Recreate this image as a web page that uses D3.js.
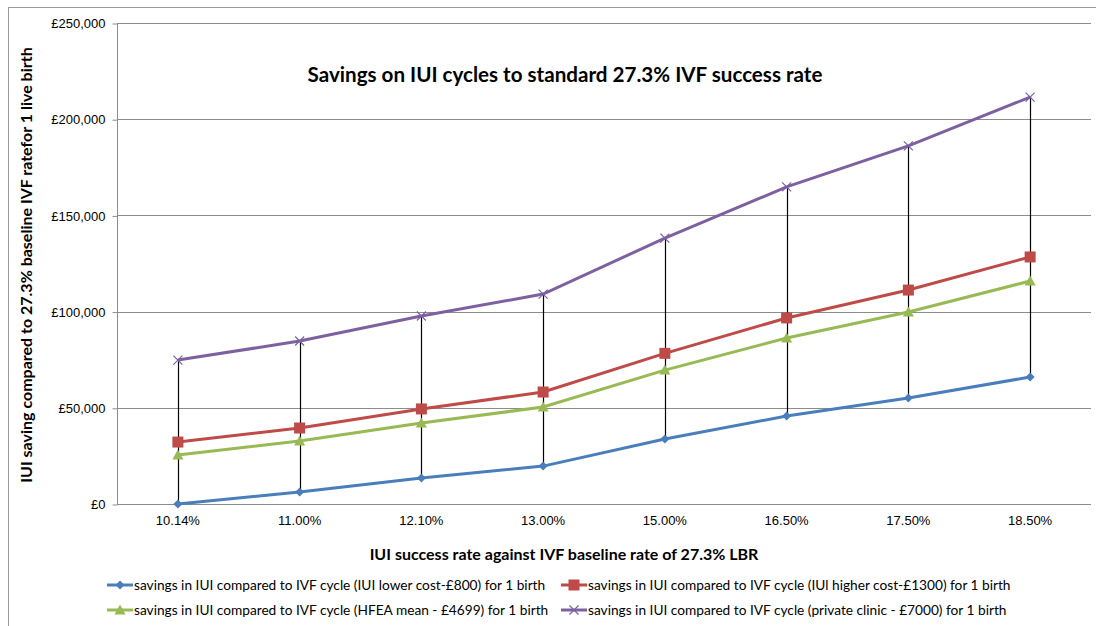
<!DOCTYPE html>
<html>
<head>
<meta charset="utf-8">
<script src="https://cdn.jsdelivr.net/npm/d3@7"></script>
<style>
    body { margin: 0; background: #fff; }
    svg { font-family: Lato, "Open Sans", sans-serif; }
    .grid-line { stroke: #8c8c8c; stroke-width: 1; }
    .axis path, .axis line { stroke: #8c8c8c; }
    .axis text { font-size: 13px; fill: #000; }
</style>
</head>
<body>
<div id="graphHolder"></div>
<script>
'use strict'
var categories = ["10.14%", "11.00%", "12.10%", "13.00%", "15.00%", "16.50%", "17.50%", "18.50%"];
var lowerCost = [0, 6200, 13500, 19700, 33800, 45700, 55100, 66000];
var higherCost = [32200, 39500, 49400, 58200, 78300, 96700, 111200, 128400];
var hfeaMean = [25500, 32700, 42100, 50400, 69600, 86300, 99800, 115900];
var privateClinic = [74800, 84700, 97700, 109100, 138200, 164800, 186100, 211500];
var yTicks = [0, 50000, 100000, 150000, 200000, 250000];

var seriesNames = [
    "savings in IUI compared to IVF cycle (IUI lower cost-£800) for 1 birth",
    "savings in IUI compared to IVF cycle (IUl higher cost-£1300) for 1 birth",
    "savings in IUI compared to IVF cycle (HFEA mean - £4699) for 1 birth",
    "savings in IUI compared to IVF cycle (private clinic - £7000) for 1 birth"
];

var series = [
    {name: seriesNames[0], values: lowerCost, color: "#4a7ebb", marker: "diamond"},
    {name: seriesNames[1], values: higherCost, color: "#be4b48", marker: "square"},
    {name: seriesNames[2], values: hfeaMean, color: "#98b954", marker: "triangle"},
    {name: seriesNames[3], values: privateClinic, color: "#7d60a0", marker: "x"}
];

var width = 1096, height = 626;
var margins = {top: 23, left: 117, right: 5, bottom: 122};

var svg = d3.select("#graphHolder").append("svg")
        .attr("width", width)
        .attr("height", height);

// outer chart border
svg.append("rect")
        .attr("x", 8.5).attr("y", 7.5)
        .attr("width", width + 10).attr("height", height)
        .attr("fill", "none")
        .attr("stroke", "#9a9a9a");

var xScale = d3.scaleBand()
        .domain(categories)
        .range([margins.left, width - margins.right]);

var yScale = d3.scaleLinear()
        .domain([0, 250000])
        .range([height - margins.bottom, margins.top]);

function xc(i) {
    return xScale(categories[i]) + xScale.bandwidth() / 2;
}

// horizontal grid
svg.append("g").selectAll("line")
        .data(yTicks)
        .enter().append("line")
        .attr("class", "grid-line")
        .attr("x1", margins.left)
        .attr("x2", width - margins.right)
        .attr("y1", function (d) { return Math.round(yScale(d)) + 0.5; })
        .attr("y2", function (d) { return Math.round(yScale(d)) + 0.5; });

// y axis
var yAxis = d3.axisLeft(yScale)
        .tickValues(yTicks)
        .tickSize(5)
        .tickPadding(7)
        .tickFormat(function (d) { return "£" + d3.format(",")(d); });
svg.append("g")
        .attr("class", "y axis")
        .attr("transform", "translate(" + (margins.left + 0.5) + ",0.5)")
        .call(yAxis)
        .call(function (g) { g.select(".domain").attr("d", "M0," + margins.top + "V" + (height - margins.bottom)); });

// x axis labels
var xAxis = d3.axisBottom(xScale).tickSize(0).tickPadding(12);
svg.append("g")
        .attr("class", "x axis")
        .attr("transform", "translate(0," + yScale(0) + ")")
        .call(xAxis)
        .call(function (g) { g.select(".domain").remove(); });

// high-low lines
svg.append("g").selectAll("line")
        .data(categories)
        .enter().append("line")
        .attr("x1", function (d, i) { return Math.round(xc(i)) + 0.5; })
        .attr("x2", function (d, i) { return Math.round(xc(i)) + 0.5; })
        .attr("y1", function (d, i) { return yScale(d3.max(series, function (s) { return s.values[i]; })); })
        .attr("y2", function (d, i) { return yScale(d3.min(series, function (s) { return s.values[i]; })); })
        .attr("stroke", "#000")
        .attr("stroke-width", 1.2);

var line = d3.line()
        .x(function (d, i) { return xc(i); })
        .y(function (d) { return yScale(d); });

function drawMarker(g, type, color, x, y) {
    if (type === "diamond") {
        g.append("path").attr("d", "M" + x + "," + (y - 4.5) + "L" + (x + 4.5) + "," + y + "L" + x + "," + (y + 4.5) + "L" + (x - 4.5) + "," + y + "Z")
                .attr("fill", color);
    } else if (type === "square") {
        g.append("rect").attr("x", x - 5.5).attr("y", y - 5.5).attr("width", 11).attr("height", 11)
                .attr("fill", color);
    } else if (type === "triangle") {
        g.append("path").attr("d", "M" + x + "," + (y - 5.5) + "L" + (x + 5.5) + "," + (y + 4.5) + "L" + (x - 5.5) + "," + (y + 4.5) + "Z")
                .attr("fill", color);
    } else {
        g.append("path").attr("d", "M" + (x - 4.5) + "," + (y - 4.5) + "L" + (x + 4.5) + "," + (y + 4.5) + "M" + (x + 4.5) + "," + (y - 4.5) + "L" + (x - 4.5) + "," + (y + 4.5))
                .attr("stroke", color).attr("stroke-width", 1.2).attr("fill", "none");
    }
}

series.forEach(function (s) {
    var g = svg.append("g");
    g.append("path")
            .datum(s.values)
            .attr("d", line)
            .attr("fill", "none")
            .attr("stroke", s.color)
            .attr("stroke-width", 3);
    s.values.forEach(function (v, i) {
        drawMarker(g, s.marker, s.color, xc(i), yScale(v));
    });
});

// title
svg.append("text")
        .attr("x", 565).attr("y", 82)
        .attr("text-anchor", "middle")
        .style("font-size", "20.6px").style("font-weight", "bold")
        .text("Savings on IUI cycles to standard 27.3% IVF success rate");

// axis titles
svg.append("text")
        .attr("x", 564).attr("y", 560)
        .attr("text-anchor", "middle")
        .style("font-size", "16px").style("font-weight", "bold")
        .text("IUI success rate against IVF baseline rate of 27.3% LBR");

svg.append("text")
        .attr("transform", "translate(32,265) rotate(-90)")
        .attr("text-anchor", "middle")
        .style("font-size", "16px").style("font-weight", "bold")
        .text("IUI saving compared to 27.3%  baseline IVF ratefor 1 live birth");

// legend
var legendPos = [[107, 585], [561, 585], [107, 610], [561, 610]];
series.forEach(function (s, i) {
    var g = svg.append("g")
            .attr("transform", "translate(" + legendPos[i][0] + "," + legendPos[i][1] + ")");
    g.append("line").attr("x1", 0).attr("x2", 26).attr("y1", 0).attr("y2", 0)
            .attr("stroke", s.color).attr("stroke-width", 3);
    drawMarker(g, s.marker, s.color, 13, 0);
    g.append("text").attr("x", 27).attr("y", 5)
            .style("font-size", "13.7px")
            .text(s.name);
});
</script>
</body>
</html>
